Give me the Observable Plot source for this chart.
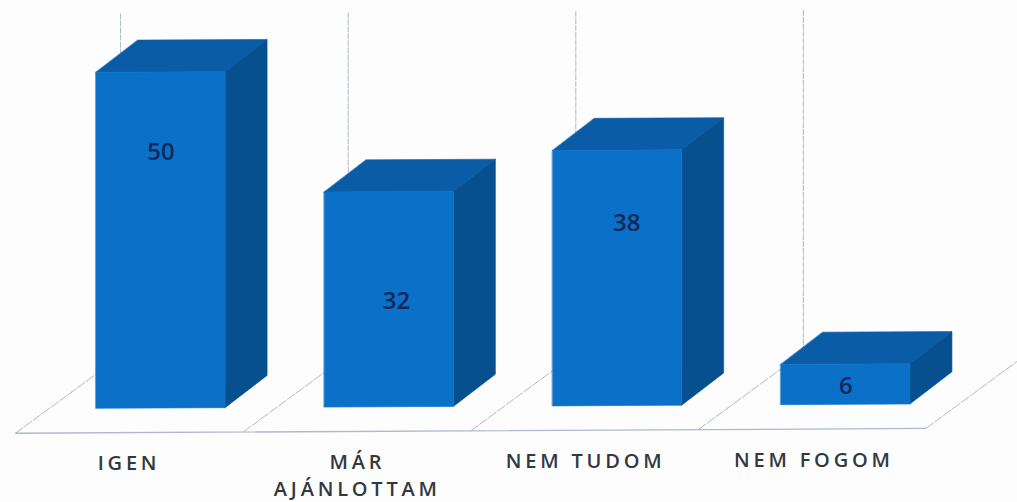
<!DOCTYPE html>
<html lang="hu">
<head>
<meta charset="utf-8">
<script src="https://cdn.jsdelivr.net/npm/d3@7"></script>
<script src="https://cdn.jsdelivr.net/npm/@observablehq/plot@0.6"></script>
<style>
  html, body { margin: 0; padding: 0; background: #fdfdfd; }
  svg { display: block; }
  g[font-size="20"] text { letter-spacing: 3.8px; }
</style>
</head>
<body>
<div id="chart"></div>
<script>
// Chart values
const categories = ["IGEN", "MÁR\nAJÁNLOTTAM", "NEM TUDOM", "NEM FOGOM"];
const values = [50, 32, 38, 6];

// Layout, in data units (x = category index, y = value)
const barHalf = 0.283;
const barDepthX = 0.184, barDepthY = 4.76;
const floorFrontX = -0.637, floorFrontY = -3.57, floorDepthX = 0.46, floorDepthY = 11.4;
const gridTop = 58.8;
const scanTilt = 0.18;              // the scan is slightly rotated
const valueLabelNudge = [[0, 38.1], [0.032, 15.8], [0.04, 27.2], [0, 2.7]];
const categoryLabelX = -0.14, categoryLabelY = -6.35;

const tilt = (x, y) => y + scanTilt * x;
const idx = d3.range(categories.length);

// 3D faces as pairs of edges
function face(i, v, kind) {
  const L = i - barHalf, R = i + barHalf;
  const dx = barDepthX, dy = barDepthY;
  const edges = {
    front: [[L, v, L, 0], [R, v, R, 0]],
    top:   [[L, v, L + dx, v + dy], [R, v, R + dx, v + dy]],
    side:  [[R, v, R, 0], [R + dx, v + dy, R + dx, dy]]
  }[kind];
  return edges.map(([x1, y1, x2, y2]) => ({
    bar: i, x1, x2, y1: tilt(x1, y1), y2: tilt(x2, y2)
  }));
}
const faces = kind => idx.flatMap(i => face(i, values[i], kind));

const dividers = d3.range(categories.length + 1).flatMap(i => {
  const x0 = floorFrontX + i * 0.997;
  return [
    {k: i, x: x0, y: tilt(x0, floorFrontY)},
    {k: i, x: x0 + floorDepthX, y: tilt(x0 + floorDepthX, floorFrontY + floorDepthY)}
  ];
});
const frontEdge = [0, categories.length].map(i => {
  const x = floorFrontX + i * 0.997;
  return {x, y: tilt(x, floorFrontY)};
});
const grids = d3.range(categories.length).map(i => floorFrontX + floorDepthX + i * 0.997);

const gridColor = "#aeb8d0";
const faceMark = (kind, fill) =>
  Plot.area(faces(kind), {x1: "x1", y1: "y1", x2: "x2", y2: "y2", z: "bar", fill, stroke: fill, strokeWidth: 0.6, curve: "linear"});

const chart = Plot.plot({
  width: 1017,
  height: 502,
  margin: 0,
  style: {background: "#fdfdfd"},
  x: {axis: null, domain: [-0.703, 3.752]},
  y: {axis: null, domain: [-13.99, 60.71]},
  marks: [
    Plot.ruleX(grids, {x: d => d, y1: d => tilt(d, floorFrontY + floorDepthY), y2: d => tilt(d, gridTop),
      stroke: gridColor, strokeWidth: 1, strokeDasharray: "6,1"}),
    Plot.line(dividers, {x: "x", y: "y", z: "k", stroke: gridColor, strokeWidth: 1, strokeDasharray: "9,2"}),
    Plot.line(frontEdge, {x: "x", y: "y", stroke: gridColor, strokeWidth: 1.3}),
    faceMark("top", "#0a5ca6"),
    faceMark("side", "#07508f"),
    faceMark("front", "#0b70c8"),
    Plot.text(idx, {
      x: i => i + valueLabelNudge[i][0],
      y: i => tilt(i, valueLabelNudge[i][1]),
      text: i => String(values[i]),
      fontFamily: "Open Sans", fontSize: 24, fontWeight: 600, fill: "#14285a"
    }),
    Plot.text(idx, {
      x: i => i + categoryLabelX,
      y: i => tilt(i, categoryLabelY),
      text: i => categories[i],
      lineAnchor: "top", lineHeight: 1.35,
      fontFamily: "Open Sans", fontSize: 20, fontWeight: 600, fill: "#33383f"
    })
  ]
});
document.getElementById("chart").appendChild(chart);
</script>
</body>
</html>
